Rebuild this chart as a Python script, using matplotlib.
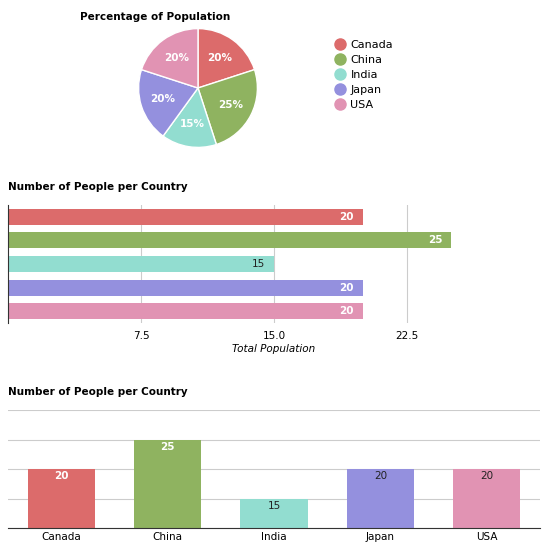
import matplotlib.pyplot as plt
from matplotlib.lines import Line2D
import numpy as np

countries = ['Canada', 'China', 'India', 'Japan', 'USA']
people = [20, 25, 15, 20, 20]
pcts = ['20%', '25%', '15%', '20%', '20%']
colors = ['#dc6b6b', '#8fb360', '#92ddd0', '#9490de', '#e193b3']
label_colors = ['white', 'white', '#222222', 'white', 'white']

fig = plt.figure(figsize=(5.5, 5.51), dpi=100)
H = 551.0
W = 550.0

def box(x0, y0, x1, y1):
    return [x0 / W, 1 - y1 / H, (x1 - x0) / W, (y1 - y0) / H]

# pie
ax = fig.add_axes(box(138, 28, 258, 148))
wedges, _ = ax.pie(people, colors=colors, startangle=90, counterclock=False,
                   wedgeprops=dict(edgecolor='white', linewidth=1))
ang = 90.0
for w, t in zip(people, pcts):
    mid = np.deg2rad(ang - w / sum(people) * 180)
    ax.text(0.62 * np.cos(mid), 0.62 * np.sin(mid), t, ha='center', va='center',
            color='white', fontsize=7.5, fontweight='bold')
    ang -= w / sum(people) * 360
ax.set_xlim(-1.01, 1.01)
ax.set_ylim(-1.01, 1.01)
ax.set_aspect('equal')
fig.text(80 / W, 1 - 17 / H, 'Percentage of Population', fontsize=7.5,
         fontweight='bold', va='center')
handles = [Line2D([], [], marker='o', linestyle='', markersize=8, color=c) for c in colors]
fig.legend(handles, countries, loc='upper left', bbox_to_anchor=(326 / W, 1 - 30 / H),
           frameon=False, fontsize=8, handlelength=0.8, labelspacing=0.45,
           handletextpad=0.5)

# horizontal bar chart
ax2 = fig.add_axes(box(8, 205, 540, 323))
y = np.arange(len(countries))
ax2.barh(y, people, height=0.68, color=colors)
ax2.set_ylim(len(countries) - 0.5, -0.5)
ax2.set_xlim(0, 30)
ax2.set_xticks([7.5, 15.0, 22.5])
ax2.set_xticklabels(['7.5', '15.0', '22.5'], fontsize=7.5)
ax2.set_yticks([])
ax2.grid(axis='x', color='#cccccc', linewidth=0.8)
ax2.set_axisbelow(True)
for s in ['top', 'right', 'bottom']:
    ax2.spines[s].set_visible(False)
ax2.spines['left'].set_color('#333333')
ax2.tick_params(axis='x', length=0, pad=6)
for i, v in enumerate(people):
    ax2.text(v - 0.5, i, str(v), ha='right', va='center', fontsize=7.5,
             color=label_colors[i], fontweight='bold' if label_colors[i] == 'white' else 'normal')
ax2.set_xlabel('Total Population', fontsize=7.5, style='italic', labelpad=2)
fig.text(8 / W, 1 - 187 / H, 'Number of People per Country', fontsize=7.5,
         fontweight='bold', va='center')

# vertical bar chart
ax3 = fig.add_axes(box(8, 410, 540, 528))
ax3.bar(y, people, width=0.63, color=colors, bottom=0)
ax3.set_ylim(10, 30)
ax3.set_xlim(-0.5, len(countries) - 0.5)
ax3.set_yticks([10, 15, 20, 25, 30])
ax3.set_yticklabels([])
ax3.grid(axis='y', color='#cccccc', linewidth=0.8)
ax3.set_axisbelow(True)
for s in ['top', 'right', 'left']:
    ax3.spines[s].set_visible(False)
ax3.spines['bottom'].set_color('#333333')
ax3.tick_params(axis='y', length=0)
ax3.tick_params(axis='x', length=0, pad=3)
ax3.set_xticks(y)
ax3.set_xticklabels(countries, fontsize=7.5)
v_label_colors = ['white', 'white', '#222222', '#222222', '#222222']
for i, v in enumerate(people):
    ax3.text(i, v - 0.4, str(v), ha='center', va='top', fontsize=7.5,
             color=v_label_colors[i], fontweight='bold' if v_label_colors[i] == 'white' else 'normal')
fig.text(8 / W, 1 - 392 / H, 'Number of People per Country', fontsize=7.5,
         fontweight='bold', va='center')

fig.savefig('out.png', dpi=100)
